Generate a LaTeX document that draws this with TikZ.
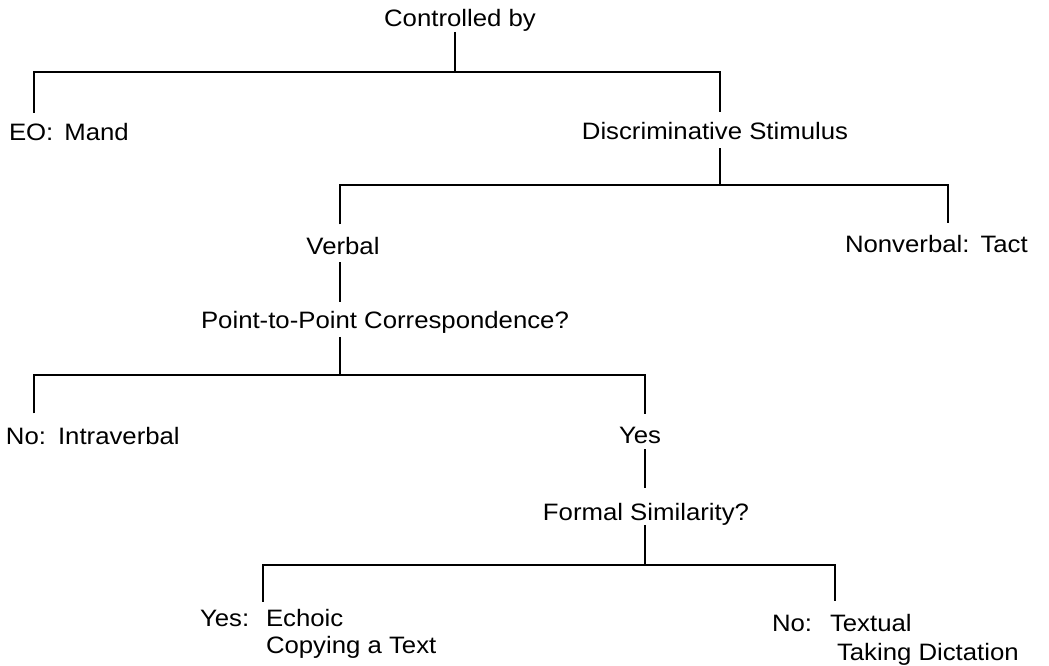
\documentclass[tikz,border=0pt]{standalone}
\usepackage{fontspec}
\setmainfont{Liberation Sans}[FakeStretch=1.085]
\newlength\pxu
\setlength\pxu{0.75pt}
\begin{document}
\begin{tikzpicture}[x=0.75pt,y=-0.75pt,
  lbl/.style={inner sep=0pt, outer sep=0pt, font=\fontsize{17.8}{20.5}\selectfont},
  conn/.style={line width=1.6pt, line join=miter}]
\useasboundingbox (0,0) rectangle (1049,666);

% labels
\node[lbl, anchor=base] (ctrl) at (460,27) {Controlled by};
\node[lbl, anchor=base west] (eo) at (9,141) {EO:\hspace{11\pxu}Mand};
\node[lbl, anchor=base] (disc) at (715,140) {Discriminative Stimulus};
\node[lbl, anchor=base] (verbal) at (343,255) {Verbal};
\node[lbl, anchor=base west] (nonv) at (845,253) {Nonverbal:\hspace{11\pxu}Tact};
\node[lbl, anchor=base] (p2p) at (385,329) {Point-to-Point Correspondence?};
\node[lbl, anchor=base west] (intra) at (6,444) {No:\hspace{12\pxu}Intraverbal};
\node[lbl, anchor=base] (yes) at (640,443) {Yes};
\node[lbl, anchor=base] (formal) at (646,520) {Formal Similarity?};
\node[lbl, anchor=base west] (echoic) at (200,626)
  {\begin{tabular}[t]{@{}l@{}}\makebox[66\pxu][l]{Yes:}Echoic\\\hspace*{66\pxu}Copying a Text\end{tabular}};
\node[lbl, anchor=base west, font=\fontsize{17.8}{21.75}\selectfont] (textual) at (772,631)
  {\begin{tabular}[t]{@{}l@{}}\makebox[58\pxu][l]{No:}Textual\\\hspace*{65\pxu}Taking Dictation\end{tabular}};

% junction coordinates
\coordinate (b1L) at (34,72);  \coordinate (b1M) at (455,72);  \coordinate (b1R) at (720,72);
\coordinate (b2L) at (340,185); \coordinate (b2M) at (720,185); \coordinate (b2R) at (948,185);
\coordinate (b3L) at (34,375); \coordinate (b3M) at (340,375); \coordinate (b3R) at (645,375);
\coordinate (b4L) at (263,565); \coordinate (b4M) at (645,565); \coordinate (b4R) at (835,565);

% level 1
\draw[conn] (ctrl.south -| b1M) -- (b1M);
\draw[conn, shorten <=8.25pt, shorten >=8.25pt] (b1L |- eo.north) -- (b1L) -- (b1R) -- (b1R |- disc.north);
% level 2
\draw[conn, shorten <=6pt] (disc.south -| b2M) -- (b2M);
\draw[conn, shorten <=10pt, shorten >=9.5pt] (b2L |- verbal.north) -- (b2L) -- (b2R) -- (b2R |- nonv.north);
% verbal to p2p
\draw[conn, shorten <=5.25pt, shorten >=7.5pt] (verbal.south -| b2L) -- (b2L |- p2p.north);
% level 3
\draw[conn, shorten <=2.25pt] (p2p.south -| b3M) -- (b3M);
\draw[conn, shorten <=10pt, shorten >=9.5pt] (b3L |- intra.north) -- (b3L) -- (b3R) -- (b3R |- yes.north);
% yes to formal
\draw[conn, shorten <=4.5pt, shorten >=11.25pt] (yes.south -| b3R) -- (b3R |- formal.north);
% level 4
\draw[conn] (formal.south -| b4M) -- (b4M);
\draw[conn, shorten <=4pt, shorten >=7pt] (b4L |- echoic.north) -- (b4L) -- (b4R) -- (b4R |- textual.north);
\end{tikzpicture}
\end{document}
